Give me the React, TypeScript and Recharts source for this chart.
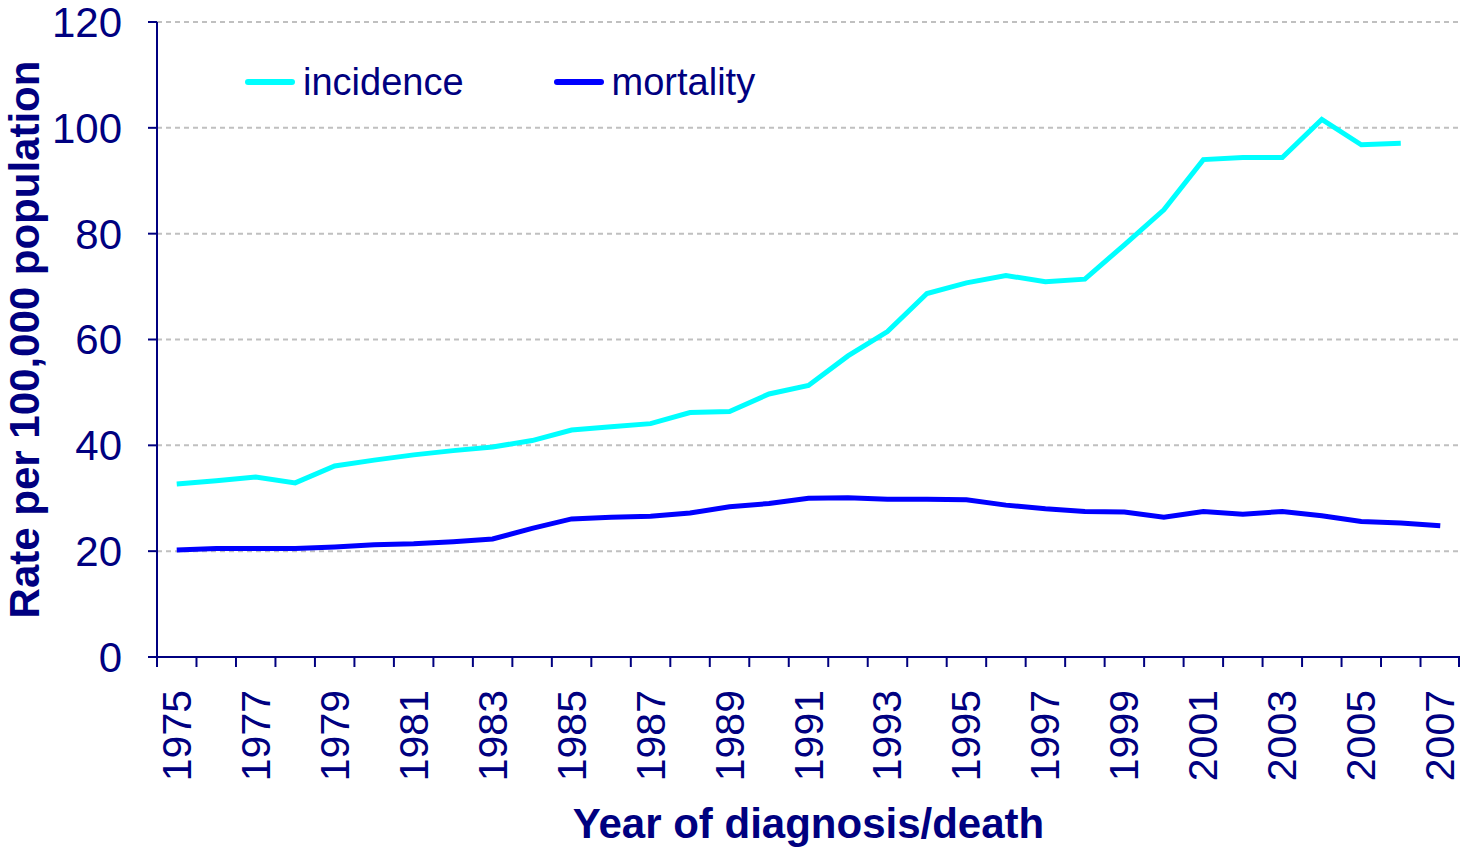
import React from 'react';
import { LineChart, Line, XAxis, YAxis, CartesianGrid, Legend } from 'recharts';

const years = [
  '1975', '1976', '1977', '1978', '1979', '1980', '1981', '1982', '1983', '1984', '1985',
  '1986', '1987', '1988', '1989', '1990', '1991', '1992', '1993', '1994', '1995', '1996',
  '1997', '1998', '1999', '2000', '2001', '2002', '2003', '2004', '2005', '2006', '2007',
];
const incidence: (number | null)[] = [
  32.7, 33.3, 34.0, 32.9, 36.1, 37.2, 38.2, 39.0, 39.7, 40.9, 42.9,
  43.5, 44.1, 46.2, 46.4, 49.7, 51.3, 56.9, 61.5, 68.7, 70.7, 72.1,
  70.9, 71.4, 77.9, 84.5, 94.0, 94.4, 94.4, 101.6, 96.8, 97.1, null,
];
const mortality: number[] = [
  20.2, 20.5, 20.5, 20.5, 20.8, 21.2, 21.4, 21.8, 22.3, 24.3, 26.1,
  26.4, 26.6, 27.2, 28.4, 29.0, 30.0, 30.1, 29.8, 29.8, 29.7, 28.7,
  28.0, 27.5, 27.4, 26.4, 27.5, 27.0, 27.5, 26.7, 25.6, 25.3, 24.8,
];
const yTicks = [0, 20, 40, 60, 80, 100, 120];
const seriesNames = ['incidence', 'mortality'];

const data = years.map((year, i) => ({
  year,
  incidence: incidence[i],
  mortality: mortality[i],
}));

const NAVY = '#000080';
const CYAN = '#00FFFF';
const BLUE = '#0000FF';
const FONT = '"Liberation Sans", Arial, sans-serif';

const XTick = (props: any) => {
  const { x, y, payload, index } = props;
  const half = payload && typeof payload.offset === 'number' ? payload.offset : 0;
  const isLast = index === years.length - 1;
  return (
    <g>
      <line x1={x - half} x2={x - half} y1={y} y2={y + 10} stroke={NAVY} strokeWidth={2} />
      {isLast && <line x1={x + half - 1} x2={x + half - 1} y1={y} y2={y + 10} stroke={NAVY} strokeWidth={2} />}
      {index % 2 === 0 && (
        <text
          x={x}
          y={y + 33}
          dy={14}
          transform={`rotate(-90, ${x}, ${y + 33})`}
          textAnchor="end"
          fill={NAVY}
          fontSize={41}
          fontFamily={FONT}
        >
          {payload.value}
        </text>
      )}
    </g>
  );
};

const LegendContent = () => {
  const colors = [CYAN, BLUE];
  return (
    <div style={{ display: 'flex', alignItems: 'center', fontFamily: FONT, fontSize: 38, color: NAVY }}>
      {seriesNames.map((name, i) => (
        <div key={name} style={{ display: 'flex', alignItems: 'center', marginRight: i === 0 ? 90 : 0 }}>
          <div style={{ width: 50, height: 6, background: colors[i], borderRadius: 3, marginRight: 8 }} />
          <span style={{ lineHeight: '44px' }}>{name}</span>
        </div>
      ))}
    </div>
  );
};

export default function App() {
  return (
    <div style={{ position: 'absolute', left: 0, top: 0, width: 1460, height: 848, background: '#fff' }}>
      <LineChart
        width={1460}
        height={848}
        data={data}
        margin={{ top: 22, right: 0, bottom: 0, left: 0 }}
        style={{ fontFamily: FONT }}
      >
        <CartesianGrid vertical={false} stroke="#c0c0c0" strokeDasharray="5 4" strokeWidth={2} />
        <XAxis
          dataKey="year"
          scale="band"
          interval={0}
          height={191}
          tickLine={false}
          tickSize={0}
          tickMargin={0}
          axisLine={{ stroke: NAVY, strokeWidth: 2 }}
          tick={<XTick />}
          label={{
            value: 'Year of diagnosis/death',
            position: 'insideBottom',
            offset: 10,
            style: { fontWeight: 'bold', fontSize: 42, fill: NAVY, fontFamily: FONT },
          }}
        />
        <YAxis
          width={157}
          domain={[0, 120]}
          ticks={yTicks}
          interval={0}
          tickSize={9}
          tickMargin={26}
          axisLine={{ stroke: NAVY, strokeWidth: 2 }}
          tickLine={{ stroke: NAVY, strokeWidth: 2 }}
          tick={{ fill: NAVY, fontSize: 42, fontFamily: FONT }}
          label={{
            value: 'Rate per 100,000 population',
            angle: -90,
            position: 'insideLeft',
            offset: 24,
            style: { textAnchor: 'middle', fontWeight: 'bold', fontSize: 42, fill: NAVY, fontFamily: FONT },
          }}
        />
        <Legend
          layout="horizontal"
          verticalAlign="middle"
          align="center"
          content={<LegendContent />}
          wrapperStyle={{ position: 'absolute', left: 245, top: 60, width: 'auto', height: 'auto' }}
        />
        <Line
          dataKey="incidence"
          name={seriesNames[0]}
          stroke={CYAN}
          strokeWidth={5}
          dot={false}
          isAnimationActive={false}
        />
        <Line
          dataKey="mortality"
          name={seriesNames[1]}
          stroke={BLUE}
          strokeWidth={5}
          dot={false}
          isAnimationActive={false}
        />
      </LineChart>
    </div>
  );
}
